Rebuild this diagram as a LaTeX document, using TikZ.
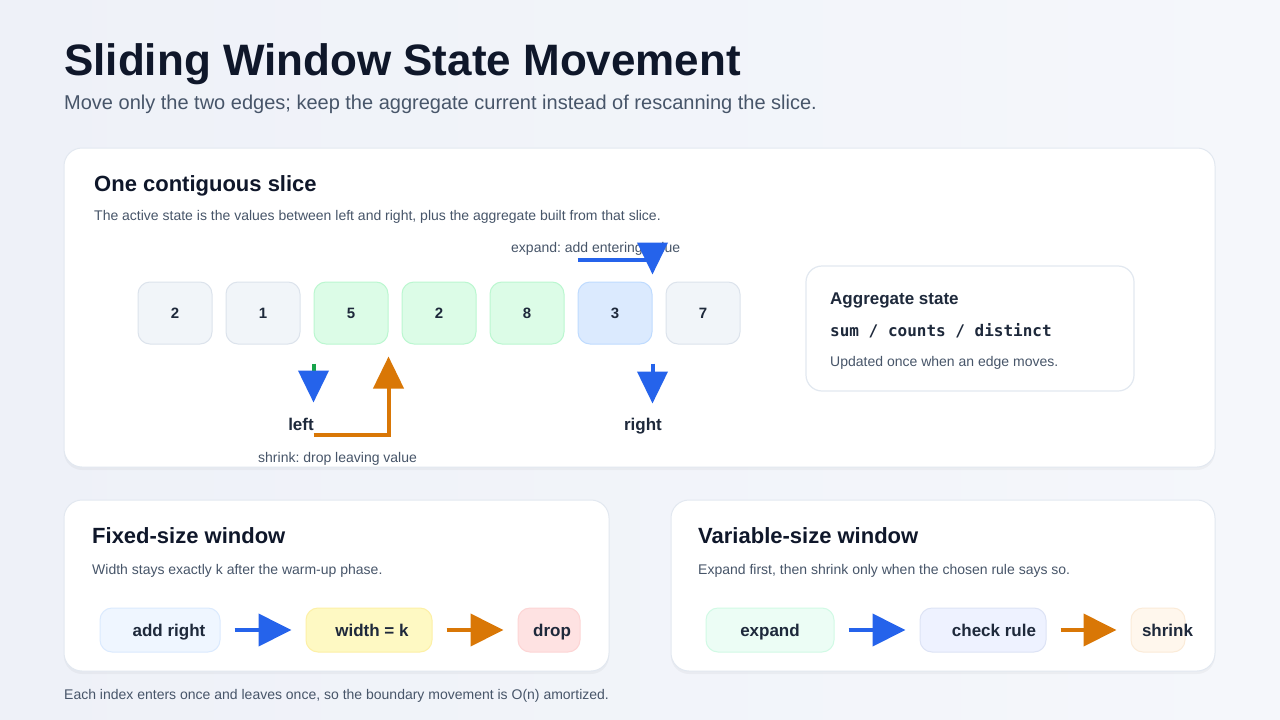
\documentclass[tikz,border=0pt]{standalone}
\usepackage{fontspec}
\setmainfont{Liberation Sans}
\setmonofont{DejaVu Sans Mono}
\usepackage{xcolor}
\definecolor{ink}{HTML}{0F172A}
\definecolor{label}{HTML}{1E293B}
\definecolor{muted}{HTML}{475569}
\definecolor{cardline}{HTML}{E2E8F0}
\definecolor{bgleft}{HTML}{EEF1F8}
\definecolor{bgright}{HTML}{F5F7FB}
\definecolor{grayfill}{HTML}{F1F5F9}
\definecolor{grayline}{HTML}{DCE3EC}
\definecolor{greenfill}{HTML}{DCFCE7}
\definecolor{greenline}{HTML}{BBF7D0}
\definecolor{bluefill}{HTML}{DBEAFE}
\definecolor{blueline}{HTML}{BFDBFE}
\definecolor{flowblue}{HTML}{2563EB}
\definecolor{floworange}{HTML}{D97706}
\definecolor{flowgreen}{HTML}{16A34A}
\definecolor{addfill}{HTML}{EFF6FF}
\definecolor{addline}{HTML}{DBEAFE}
\definecolor{widfill}{HTML}{FEF9C3}
\definecolor{widline}{HTML}{FDF0A6}
\definecolor{dropfill}{HTML}{FEE2E2}
\definecolor{dropline}{HTML}{FDD5D5}
\definecolor{expfill}{HTML}{ECFDF5}
\definecolor{expline}{HTML}{D1FAE5}
\definecolor{chkfill}{HTML}{EEF2FF}
\definecolor{chkline}{HTML}{DDE3F5}
\definecolor{shrfill}{HTML}{FFF7ED}
\definecolor{shrline}{HTML}{FBEBD8}
\usepackage{tikz}
\usetikzlibrary{
  arrows.meta,
  positioning,
  shadows,
  calc
}
\frenchspacing

\begin{document}
\begin{tikzpicture}[x=1pt, y=-1pt,
  card/.style={draw=cardline, fill=white, line width=1pt, rounded corners=18pt,
    drop shadow={shadow xshift=0pt, shadow yshift=-3pt, opacity=0.035, fill=black}},
  cell/.style={draw=grayline, fill=grayfill, line width=1pt, rounded corners=12pt,
    minimum width=74pt, minimum height=62pt, text=label, text height=10.7pt, text depth=0pt,
    font=\fontsize{15}{18}\selectfont\bfseries},
  live/.style={cell, draw=greenline, fill=greenfill},
  edge/.style={cell, draw=blueline, fill=bluefill},
  stepbox/.style={line width=1pt, rounded corners=12pt,
    minimum height=44pt, text=label, inner sep=0pt, text height=12pt, text depth=0pt,
    font=\fontsize{17}{20}\selectfont\bfseries},
  heading/.style={anchor=base west, inner sep=0pt, text=ink, font=\fontsize{22}{26}\selectfont\bfseries},
  note/.style={anchor=base west, inner sep=0pt, text=muted, font=\fontsize{14}{17}\selectfont},
  ptr/.style={line width=4pt, -{Triangle[length=32pt, width=30pt]}},
  flow/.style={line width=4pt, -{Triangle[length=33pt, width=32pt]}, shorten <=14pt, shorten >=14pt}
]
  \shade[left color=bgleft, right color=bgright] (0,0) rectangle (1280,720);
  \useasboundingbox (0,0) rectangle (1280,720);

  % title
  \node[anchor=base west, inner sep=0pt, text=ink, font=\fontsize{44}{50}\selectfont\bfseries]
    (title) at (64,75) {Sliding Window State Movement};
  \node[anchor=base west, inner sep=0pt, text=muted, font=\fontsize{20}{24}\selectfont]
    (subtitle) at (64,109) {Move only the two edges; keep the aggregate current instead of rescanning the slice.};

  % main card
  \draw[card] (64,148) rectangle (1215,467);
  \node[heading] (slicehead) at (94,191) {One contiguous slice};
  \node[note] (slicenote) at (94,220) {The active state is the values between left and right, plus the aggregate built from that slice.};

  \node[cell] (c1) at (175,313) {2};
  \node[cell] (c2) at (263,313) {1};
  \node[live] (c3) at (351,313) {5};
  \node[live] (c4) at (439,313) {2};
  \node[live] (c5) at (527,313) {8};
  \node[edge] (c6) at (615,313) {3};
  \node[cell] (c7) at (703,313) {7};

  % pointers
  \coordinate (lefttop) at ($(c3.south west)+(0,19)$);
  \coordinate (lefttip) at ($(c3.south west)+(0,58)$);
  \coordinate (righttop) at ($(c6.south east)+(0,19)$);
  \coordinate (righttip) at ($(c6.south east)+(0,59)$);
  \node[anchor=base, inner sep=0pt, text=label, font=\fontsize{17}{20}\selectfont\bfseries]
    (leftlbl) at (301,430) {left};
  \node[anchor=base, inner sep=0pt, text=label, font=\fontsize{17}{20}\selectfont\bfseries]
    (rightlbl) at (643,430) {right};
  \draw[line width=4pt, flowgreen, -{Triangle[length=32pt, width=30pt, color=flowblue]}] (lefttop) -- (lefttip);
  \draw[ptr, flowblue] (righttop) -- (righttip);

  % shrink move
  \coordinate (shrinkfrom) at ($(c3.south west)+(0,90)$);
  \coordinate (shrinktip) at ($(c3.south east)+(0,12)$);
  \draw[ptr, floworange, line join=miter] (shrinkfrom) -| (shrinktip);
  \node[note] (shrinknote) at (258,462) {shrink: drop leaving value};

  % expand move
  \node[note] (expandnote) at (511,252) {expand: add entering value};
  \coordinate (expandfrom) at ($(c6.north west)+(0,-22)$);
  \coordinate (expandtip) at ($(c6.north east)+(0,-7)$);
  \draw[ptr, flowblue, line join=miter] (expandfrom) -| (expandtip);

  % aggregate
  \draw[draw=cardline, fill=white, line width=1.2pt, rounded corners=16pt] (806,266) rectangle (1134,391);
  \node[anchor=base west, inner sep=0pt, text=label, font=\fontsize{17}{20}\selectfont\bfseries]
    (agghead) at (830,304) {Aggregate state};
  \node[anchor=base west, inner sep=0pt, text=label, font=\fontsize{16}{19}\selectfont\ttfamily\bfseries]
    (aggparts) at (830,336) {sum / counts / distinct};
  \node[note] (aggnote) at (830,366) {Updated once when an edge moves.};

  % fixed-size card
  \draw[card] (64,500) rectangle (609,671);
  \node[heading] (fixedhead) at (92,543) {Fixed-size window};
  \node[note] (fixednote) at (92,574) {Width stays exactly k after the warm-up phase.};
  \node[stepbox, draw=addline, fill=addfill, minimum width=120pt] (addr) at (160,630) {\hspace{18pt}add right};
  \node[stepbox, draw=widline, fill=widfill, minimum width=126pt] (widk) at (369,630) {\hspace{6pt}width = k};
  \node[stepbox, draw=dropline, fill=dropfill, minimum width=62pt] (drp) at (549,630) {\hspace{6pt}drop};
  \draw[flow, flowblue] (addr) -- (widk);
  \draw[flow, floworange] (widk) -- (drp);

  % variable-size card
  \draw[card] (671,500) rectangle (1215,671);
  \node[heading] (varhead) at (698,543) {Variable-size window};
  \node[note] (varnote) at (698,574) {Expand first, then shrink only when the chosen rule says so.};
  \node[stepbox, draw=expline, fill=expfill, minimum width=128pt] (expd) at (770,630) {expand};
  \node[stepbox, draw=chkline, fill=chkfill, minimum width=126pt] (chk) at (983,630) {\hspace{22pt}check rule};
  \node[stepbox, draw=shrline, fill=shrfill, minimum width=54pt] (shr) at (1158,630) {\makebox[54pt][l]{\hspace{11pt}shrink}};
  \draw[flow, flowblue] (expd) -- (chk);
  \draw[flow, floworange] (chk) -- (shr);

  \node[note] (footer) at (64,699) {Each index enters once and leaves once, so the boundary movement is O(n) amortized.};
\end{tikzpicture}
\end{document}
